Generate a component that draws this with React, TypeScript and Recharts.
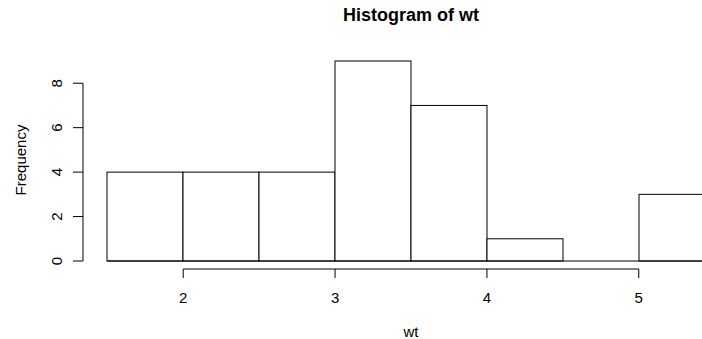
import React from 'react';
import { ComposedChart, Bar, XAxis, YAxis, ReferenceLine } from 'recharts';

// histogram of wt: bin edges and counts per bin
const binEdges = [1.5, 2, 2.5, 3, 3.5, 4, 4.5, 5, 5.5];
const counts = [4, 4, 4, 9, 7, 1, 0, 3];
const xTicks = [2, 3, 4, 5];
const yTicks = [0, 2, 4, 6, 8];

const xDomain: [number, number] = [1.34, 5.66];
const yDomain: [number, number] = [-0.36, 9.36];

const bins = counts.map((count, i) => ({
    bin: `${binEdges[i]}-${binEdges[i + 1]}`,
    mid: (binEdges[i] + binEdges[i + 1]) / 2,
    count,
}));

const FONT = '"Liberation Sans", Arial, Helvetica, sans-serif';
const INK = '#000';

// outline rect for each bin
const HistRect = (props: any) => {
    const { x, y, width, height } = props;
    if (x == null || width == null) return null;
    const top = Math.min(y, y + height);
    const h = Math.abs(height);
    return <rect x={x} y={top} width={width} height={h} fill="#fff" stroke={INK} strokeWidth={1} />;
};

const XTick = (props: any) => {
    const { x, y, payload } = props;
    return (
        <text x={x} y={y + 23} textAnchor="middle" fontFamily={FONT} fontSize={15} fill={INK}>
            {payload.value}
        </text>
    );
};

const YTick = (props: any) => {
    const { x, y, payload } = props;
    const bx = x - 9;
    return (
        <text x={bx} y={y} textAnchor="middle" fontFamily={FONT} fontSize={15} fill={INK}
            transform={`rotate(-90, ${bx}, ${y})`}>
            {payload.value}
        </text>
    );
};

export default function App() {
    return (
        <div style={{ position: 'absolute', left: 0, top: 0, width: 702, height: 339, overflow: 'hidden', background: '#fff' }}>
            <ComposedChart
                width={780}
                height={339}
                data={bins}
                margin={{ top: 53, right: 41, bottom: 0, left: 0 }}
                barCategoryGap={0}
                barGap={0}
            >
                <XAxis
                    xAxisId="wt"
                    dataKey="mid"
                    type="number"
                    domain={xDomain}
                    ticks={xTicks}
                    allowDataOverflow
                    height={70}
                    axisLine={false}
                    tickSize={9}
                    tickLine={{ stroke: INK }}
                    tick={<XTick />}
                />
                <XAxis xAxisId="bins" dataKey="bin" type="category" hide height={0} padding={{ left: 24, right: 24 }} />
                <YAxis
                    type="number"
                    domain={yDomain}
                    ticks={yTicks}
                    allowDataOverflow
                    width={83}
                    axisLine={false}
                    tickSize={10}
                    tickLine={{ stroke: INK }}
                    tick={<YTick />}
                />
                <Bar xAxisId="bins" dataKey="count" shape={<HistRect />} isAnimationActive={false} />
                {/* common baseline of the bins (covers empty bins too) */}
                <ReferenceLine xAxisId="wt" segment={[{ x: binEdges[0], y: 0 }, { x: binEdges[binEdges.length - 1], y: 0 }]} stroke={INK} ifOverflow="visible" />
                {/* axis lines only span the tick range, as in base R plots */}
                <ReferenceLine xAxisId="wt" segment={[{ x: xTicks[0], y: yDomain[0] }, { x: xTicks[xTicks.length - 1], y: yDomain[0] }]} stroke={INK} ifOverflow="visible" />
                <ReferenceLine xAxisId="wt" segment={[{ x: xDomain[0], y: yTicks[0] }, { x: xDomain[0], y: yTicks[yTicks.length - 1] }]} stroke={INK} ifOverflow="visible" />
                <text x={411} y={21} textAnchor="middle" fontFamily={FONT} fontSize={18} fontWeight="bold" fill={INK}>
                    Histogram of wt
                </text>
                <text x={411} y={337} textAnchor="middle" fontFamily={FONT} fontSize={15} fill={INK}>
                    wt
                </text>
                <text x={26} y={160} textAnchor="middle" fontFamily={FONT} fontSize={15} fill={INK}
                    transform="rotate(-90, 26, 160)">
                    Frequency
                </text>
            </ComposedChart>
        </div>
    );
}
